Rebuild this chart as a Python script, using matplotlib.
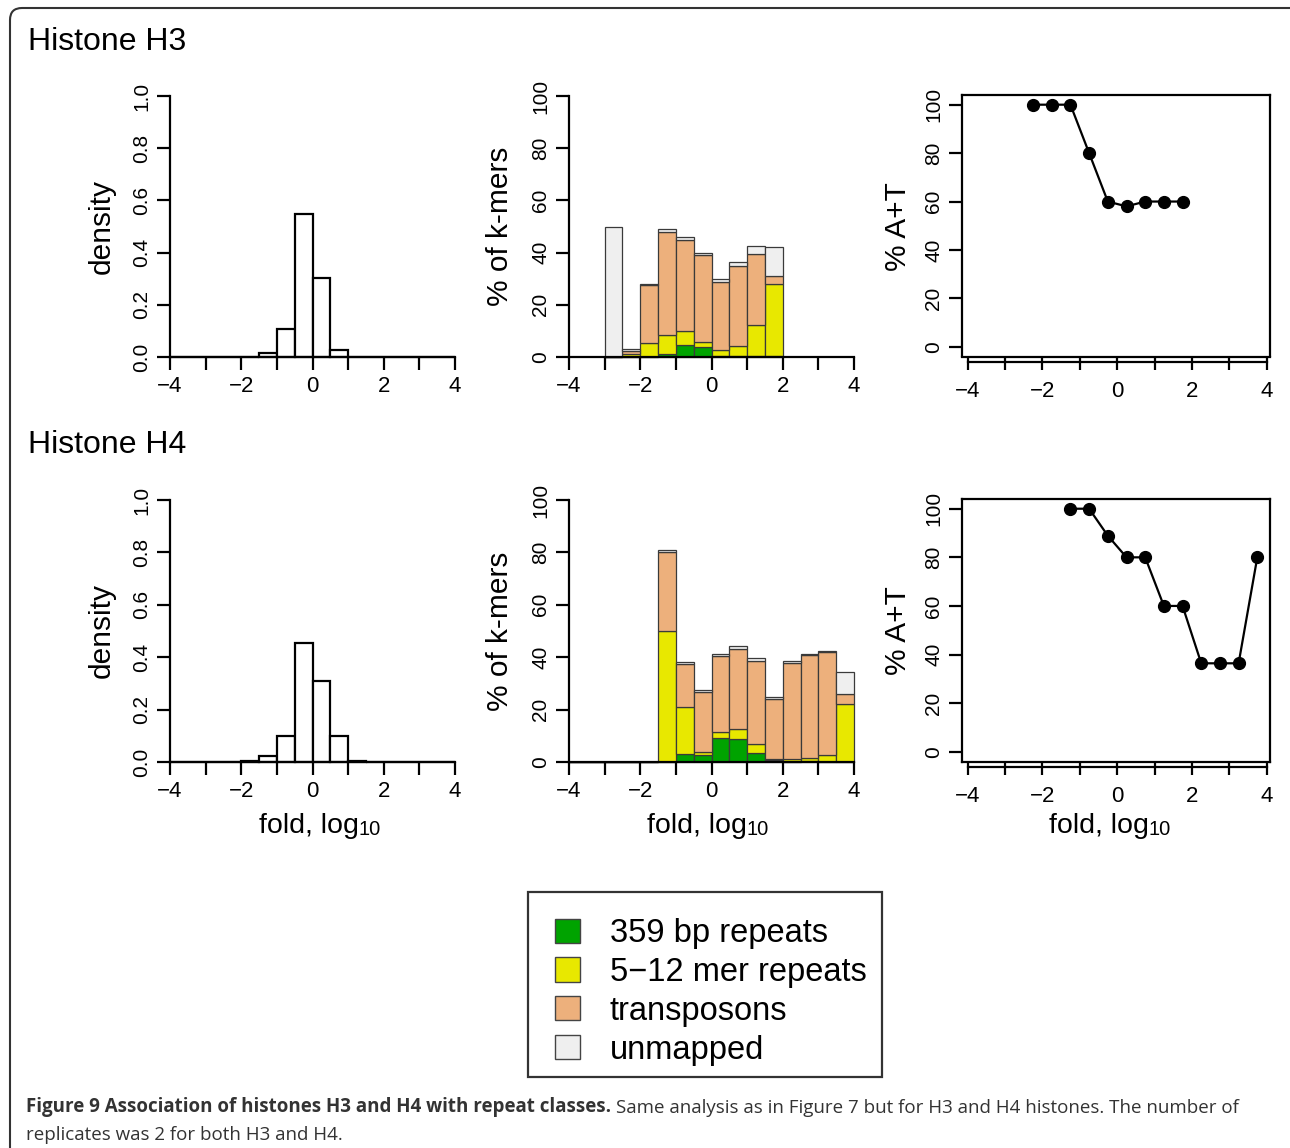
import matplotlib
matplotlib.use("Agg")
import matplotlib.pyplot as plt
from matplotlib.patches import Patch, FancyBboxPatch, Rectangle
from matplotlib.lines import Line2D
from matplotlib.transforms import IdentityTransform, ScaledTranslation

plt.rcParams['font.family'] = ['Liberation Sans', 'DejaVu Sans']

# ---- data ----
# density histograms (bin left edges, width 0.5)
hist_edges = [-4, -3.5, -3, -2.5, -2, -1.5, -1, -0.5, 0, 0.5, 1, 1.5, 2, 2.5, 3, 3.5]
dens_h3 = [0, 0, 0, 0, 0, 0.014, 0.106, 0.546, 0.301, 0.027, 0, 0, 0, 0, 0, 0]
dens_h4 = [0, 0, 0, 0, 0.004, 0.023, 0.10, 0.455, 0.31, 0.10, 0.004, 0, 0, 0, 0, 0]

# repeat classes, % of k-mers per bin
h3_edges = [-3, -2.5, -2, -1.5, -1, -0.5, 0, 0.5, 1, 1.5]
h3_bp359 = [0, 0, 0, 1.3, 4.5, 3.9, 0.4, 0.5, 0.3, 0.3]
h3_mer = [0, 1.0, 5.2, 7.3, 5.5, 1.9, 2.2, 3.8, 12.0, 27.7]
h3_transp = [0, 1.3, 22.4, 39.4, 35.0, 33.2, 26.2, 30.5, 27.3, 3.2]
h3_unmapped = [50, 0.7, 0.4, 1.0, 1.0, 1.0, 1.2, 1.6, 3.0, 10.8]

h4_edges = [-4, -3.5, -3, -2.5, -2, -1.5, -1, -0.5, 0, 0.5, 1, 1.5, 2, 2.5, 3, 3.5]
h4_bp359 = [0, 0, 0, 0, 0, 0, 2.9, 2.5, 9.2, 8.7, 3.6, 0.6, 0, 0.3, 0, 0]
h4_mer = [0, 0, 0, 0, 0, 50, 18.1, 1.5, 2.3, 3.8, 3.1, 0.4, 1.0, 1.2, 2.8, 22.3]
h4_transp = [0, 0, 0, 0, 0, 30, 16.3, 22.7, 29.0, 30.8, 31.7, 23.2, 36.9, 39.2, 39.2, 3.7]
h4_unmapped = [0, 0, 0, 0, 0, 1.0, 0.7, 0.8, 0.6, 1.0, 1.4, 0.8, 0.5, 0.5, 0.4, 8.4]

# % A+T
at_x_h3 = [-2.25, -1.75, -1.25, -0.75, -0.25, 0.25, 0.75, 1.25, 1.75]
at_h3 = [100, 100, 100, 80, 60, 58, 60, 60, 60]
at_x_h4 = [-1.25, -0.75, -0.25, 0.25, 0.75, 1.25, 1.75, 2.25, 2.75, 3.25, 3.75]
at_h4 = [100, 100, 88.9, 80, 80, 60, 60, 36.4, 36.4, 36.4, 80]

class_names = ["359 bp repeats", "5\u221212 mer repeats", "transposons", "unmapped"]
class_colors = ["#00a300", "#e8e800", "#edb07c", "#efefef"]

W, H = 1290, 1148
fig = plt.figure(figsize=(W / 100, H / 100), dpi=100)


def ax_px(left, top, right, bottom):
    return fig.add_axes([left / W, 1 - bottom / H, (right - left) / W, (bottom - top) / H])


def int_ticks(ax):
    ax.set_xticks(range(-4, 5))
    ax.set_xticklabels(["\u22124", "", "\u22122", "", "0", "", "2", "", "4"])


def r_axes(ax, ymax, yticks, ylabels):
    for s in ["top", "right"]:
        ax.spines[s].set_visible(False)
    for s in ["left", "bottom"]:
        ax.spines[s].set_linewidth(1.6)
    ax.set_xlim(-4, 4)
    ax.set_ylim(0, ymax)
    ax.spines["bottom"].set_bounds(-4, 4)
    ax.spines["left"].set_bounds(0, ymax)
    int_ticks(ax)
    ax.set_yticks(yticks)
    ax.set_yticklabels(ylabels)
    ax.tick_params(direction="out", length=9.4, width=1.6)
    ax.tick_params(axis="x", labelsize=16, pad=4)
    ax.tick_params(axis="y", labelsize=15, pad=4)
    for lab in ax.get_yticklabels():
        lab.set_rotation(90)
        lab.set_va("center")


def stacked(ax, edges, parts):
    bottom = [0] * len(edges)
    for vals, col in zip(parts, class_colors):
        ax.bar(edges, vals, width=0.5, align="edge", bottom=bottom, color=col,
               edgecolor="#3a3a3a", linewidth=0.9, clip_on=False)
        bottom = [b + v for b, v in zip(bottom, vals)]


def at_panel(ax, xs, ys):
    ax.plot(xs, ys, color="black", lw=1.6, marker="o", markersize=8.5)
    ax.set_xlim(-4.16, 4.09)
    ax.set_ylim(-4, 104)
    for s in ax.spines.values():
        s.set_linewidth(1.6)
    int_ticks(ax)
    ax.set_yticks([0, 20, 40, 60, 80, 100])
    ax.tick_params(direction="out", length=9.4, width=1.6)
    ax.tick_params(axis="x", labelsize=16, pad=8)
    ax.tick_params(axis="y", labelsize=15, pad=4)
    for lab in ax.get_yticklabels():
        lab.set_rotation(90)
        lab.set_va("center")
    off = ScaledTranslation(0, -5 / 100, fig.dpi_scale_trans)
    ax.add_line(Line2D([-4, 4], [0, 0], color="black", lw=1.6, clip_on=False,
                       transform=ax.get_xaxis_transform() + off))


rows = [(96, 357, dens_h3, h3_edges, [h3_bp359, h3_mer, h3_transp, h3_unmapped], at_x_h3, at_h3),
        (500, 762, dens_h4, h4_edges, [h4_bp359, h4_mer, h4_transp, h4_unmapped], at_x_h4, at_h4)]

for i, (top, bot, dens, edges, parts, ax_x, ax_y) in enumerate(rows):
    a1 = ax_px(170, top, 455, bot)
    a1.bar(hist_edges, dens, width=0.5, align="edge", facecolor="white",
           edgecolor="black", linewidth=1.6, clip_on=False)
    r_axes(a1, 1.0, [0, 0.2, 0.4, 0.6, 0.8, 1.0], ["0.0", "0.2", "0.4", "0.6", "0.8", "1.0"])

    a2 = ax_px(569, top, 854, bot)
    stacked(a2, edges, parts)
    r_axes(a2, 100, [0, 20, 40, 60, 80, 100], ["0", "20", "40", "60", "80", "100"])

    a3 = ax_px(961.7, top - 1, 1270, bot - 0.5)
    at_panel(a3, ax_x, ax_y)

    ymid = (top + bot) / 2
    fig.text(102 / W, 1 - ymid / H, "density", rotation=90, ha="center", va="center", fontsize=21.5)
    fig.text(500 / W, 1 - ymid / H, "% of k-mers", rotation=90, ha="center", va="center", fontsize=21.5)
    fig.text(898 / W, 1 - ymid / H, "% A+T", rotation=90, ha="center", va="center", fontsize=21.5)

    if i == 1:
        for cx, a in [(318, a1), (706, a2), (1108, a3)]:
            t = fig.text((cx - 9) / W, 1 - 826 / H, "fold, log", ha="center", va="center", fontsize=20.5)
            a.annotate("10", xy=(1, 0), xycoords=t, va="bottom", ha="left",
                       fontsize=14.5, annotation_clip=False)

fig.text(28 / W, 1 - 50 / H, "Histone H3", fontsize=23, va="baseline")
fig.text(28 / W, 1 - 453 / H, "Histone H4", fontsize=23, va="baseline")

# legend: frame drawn as its own box, entries placed inside
fig.add_artist(Rectangle((528, H - 1077), 353.7, 185, transform=IdentityTransform(),
                         facecolor="white", edgecolor="#333333", linewidth=1.6))
handles = [Patch(facecolor=c, edgecolor="#444444", linewidth=1.0) for c in class_colors]
leg = fig.legend(handles, class_names, loc="upper left", bbox_to_anchor=(555 / W, 1 - 918 / H),
                 borderaxespad=0, borderpad=0, fontsize=23.5, frameon=False,
                 handlelength=0.76, handleheight=0.76, handletextpad=0.92,
                 labelspacing=0.24)

# caption
cap_font = ["Open Sans", "DejaVu Sans"]
tb = fig.text(26 / W, 1 - 1112 / H, "Figure 9 Association of histones H3 and H4 with repeat classes.",
              family=cap_font, fontweight="bold", fontsize=13.5, color="#333333", va="baseline")
fig.axes[0].annotate("Same analysis as in Figure 7 but for H3 and H4 histones. The number of",
                     xy=(1, 0), xycoords=tb, xytext=(3.5, 0), textcoords="offset points",
                     va="bottom", ha="left", family=cap_font, fontsize=13.5, color="#333333",
                     annotation_clip=False)
fig.text(26 / W, 1 - 1140 / H, "replicates was 2 for both H3 and H4.",
         family=cap_font, fontsize=13.5, color="#333333", va="baseline")

# rounded border around the figure
border = FancyBboxPatch((10, -30), 1310, H - 8 + 30, boxstyle="round,pad=0,rounding_size=12",
                        transform=IdentityTransform(), facecolor="none", edgecolor="#333333",
                        linewidth=1.5)
fig.add_artist(border)

fig.savefig("out.png", dpi=100)
